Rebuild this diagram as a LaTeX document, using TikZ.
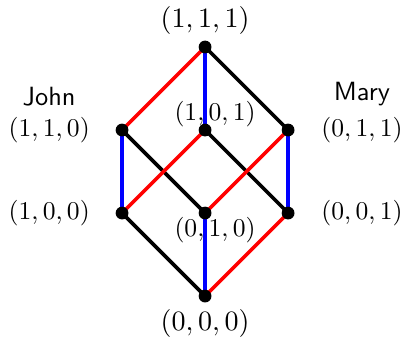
\documentclass[tikz,border=0pt]{standalone}
\usepackage{amsmath,amssymb}
\usetikzlibrary{positioning}

\begin{document}
\begin{tikzpicture}[x=1.14cm, y=1.14cm,
  every node/.style={font=\fontsize{10.3}{12.4}\selectfont},
  dot/.style={circle, inner sep=0pt, minimum size=5pt},
  big/.style={font=\fontsize{11}{13.5}\selectfont},
  who/.style={font=\fontsize{10.3}{12.4}\selectfont\sffamily}]
\useasboundingbox (-2.47,-0.494) rectangle (2.42,3.566);
% the cube, bottom to top
\node[dot] (v000) at (0,0) {};
\node[dot] (v100) at (-1,1) {};
\node[dot] (v010) at (0,1) {};
\node[dot] (v001) at (1,1) {};
\node[dot] (v110) at (-1,2) {};
\node[dot] (v101) at (0,2) {};
\node[dot] (v011) at (1,2) {};
\node[dot] (v111) at (0,3) {};
% edges
\foreach \a/\b/\c in {v111/v110/red, v111/v101/blue, v111/v011/black,
  v110/v100/blue, v110/v010/black, v101/v100/red, v101/v001/black,
  v011/v010/red, v011/v001/blue, v100/v000/black, v010/v000/blue, v001/v000/red}
  \draw[line width=1.4pt, \c] (\a.center) -- (\b.center);
\foreach \v in {v000,v100,v010,v001,v110,v101,v011,v111} \fill (\v) circle (2.5pt);
% labels
\node[big, above=-1.4pt of v111] (l111) {$(1,1,1)$};
\node[big, below=-1pt of v000] (l000) {$(0,0,0)$};
\node[xshift=3.9pt, yshift=6.2pt] (l101) at (v101) {$(1,0,1)$};
\node[xshift=3.9pt, yshift=-6.6pt] (l010) at (v010) {$(0,1,0)$};
\node[left=6.4pt of v110] (l110) {$(1,1,0)$};
\node[left=6.4pt of v100] (l100) {$(1,0,0)$};
\node[right=6.8pt of v011] (l011) {$(0,1,1)$};
\node[right=6.8pt of v001] (l001) {$(0,0,1)$};
\node[who, above=-2.8pt of l110] (john) {John};
\node[who, above=-2.8pt of l011] (mary) {Mary};
\end{tikzpicture}
\end{document}
